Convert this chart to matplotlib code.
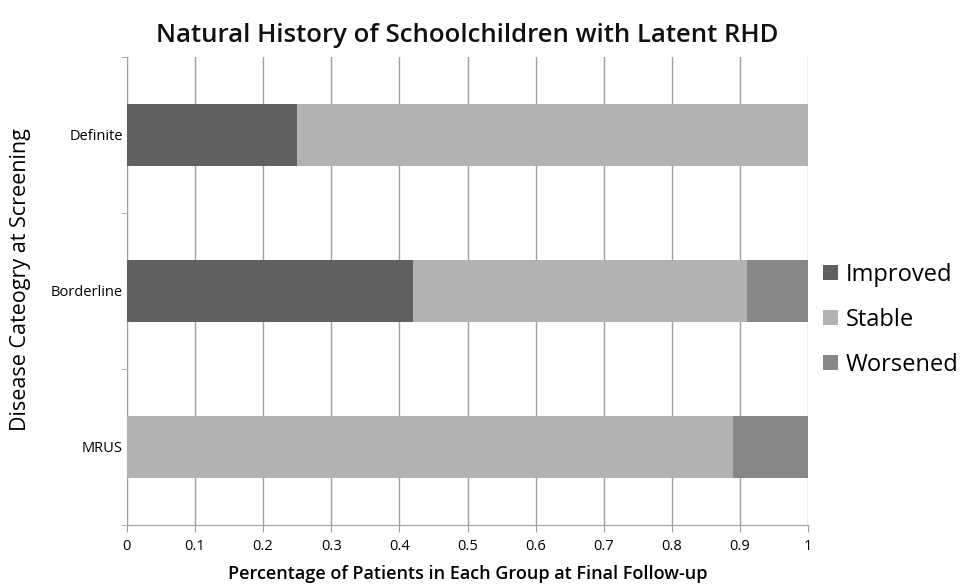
import matplotlib.pyplot as plt
from matplotlib.patches import Patch

plt.rcParams['font.family'] = ['Open Sans', 'DejaVu Sans']

categories = ['Definite', 'Borderline', 'MRUS']
improved = [0.25, 0.42, 0.0]
stable = [0.75, 0.49, 0.89]
worsened = [0.0, 0.09, 0.11]
series_names = ['Improved', 'Stable', 'Worsened']
colors = ['#606060', '#b2b2b2', '#878787']
xticks = [0, 0.1, 0.2, 0.3, 0.4, 0.5, 0.6, 0.7, 0.8, 0.9, 1]
xticklabels = ['0', '0.1', '0.2', '0.3', '0.4', '0.5', '0.6', '0.7', '0.8', '0.9', '1']

fig = plt.figure(figsize=(9.61, 5.87), dpi=100)
ax = fig.add_axes([0.132, 0.106, 0.709, 0.797])

ypos = list(range(len(categories)))
left = [0.0] * len(categories)
for vals, name, c in zip([improved, stable, worsened], series_names, colors):
    ax.barh(ypos, vals, left=left, height=0.40, color=c, label=name, zorder=3)
    left = [l + v for l, v in zip(left, vals)]

ax.set_xlim(0, 1)
ax.set_ylim(2.5, -0.5)
ax.set_xticks(xticks)
ax.set_xticklabels(xticklabels, fontsize=10.5)
ax.set_yticks(ypos)
ax.set_yticklabels(categories, fontsize=10.5)
ax.tick_params(axis='y', which='major', length=0, pad=3)
ax.set_yticks([-0.5, 0.5, 1.5, 2.5], minor=True)
ax.tick_params(axis='y', which='minor', length=4, color='#a0a0a0', direction='out')
ax.tick_params(axis='x', length=5, color='#a0a0a0', direction='out', pad=5)
ax.xaxis.grid(True, color='#a0a0a0', linewidth=1, zorder=0)
for s in ['top', 'right']:
    ax.spines[s].set_visible(False)
for s in ['left', 'bottom']:
    ax.spines[s].set_color('#a0a0a0')

ax.set_title('Natural History of Schoolchildren with Latent RHD', fontsize=18.5,
             fontweight='semibold', pad=11, color='#111111')
ax.set_xlabel('Percentage of Patients in Each Group at Final Follow-up',
              fontsize=13, fontweight='semibold', labelpad=8)
ax.set_ylabel('Disease Cateogry at Screening', fontsize=15.5)
ax.yaxis.set_label_coords(-0.141, 0.525)

handles = [Patch(facecolor=c, label=n) for c, n in zip(colors, series_names)]
ax.legend(handles=handles, loc='center left', bbox_to_anchor=(1.022, 0.438),
          frameon=False, fontsize=17, handlelength=0.62, handleheight=0.62,
          handletextpad=0.35, labelspacing=0.88, borderpad=0, borderaxespad=0)

fig.savefig('out.png', dpi=100)
